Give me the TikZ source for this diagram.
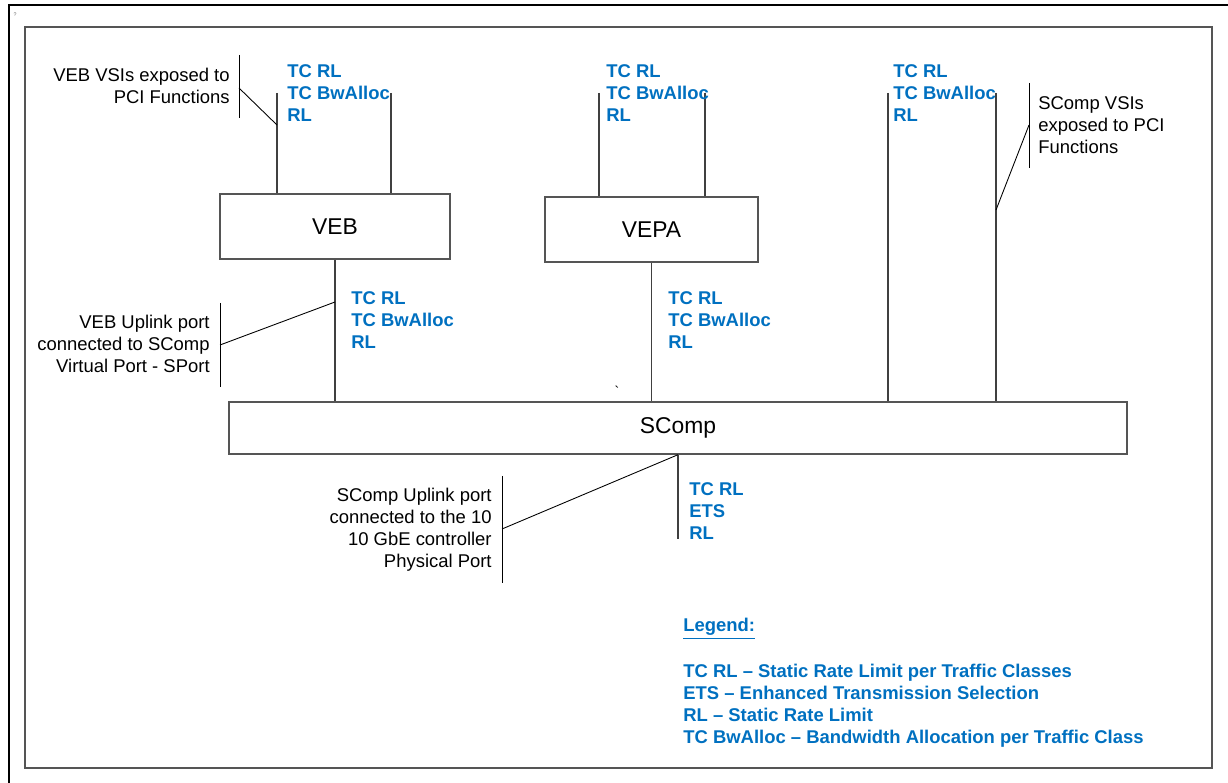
\documentclass[tikz,border=0pt]{standalone}
\usepackage{fontspec}
\setmainfont{Liberation Sans}
\usetikzlibrary{calc,positioning}
\definecolor{tcBlue}{HTML}{0070C0}
\definecolor{frameGray}{HTML}{555555}

\begin{document}
\begin{tikzpicture}[x=0.02cm, y=-0.02cm,
  block/.style={draw=frameGray, line width=0.8pt, fill=white, inner sep=0pt, font=\fontsize{13}{15}\selectfont},
  shaper/.style={anchor=west, align=left, inner sep=0pt, text=tcBlue, font=\bfseries\fontsize{10.5}{12.5}\selectfont},
  note/.style={inner sep=0pt, font=\fontsize{10.5}{12.5}\selectfont},
  link/.style={draw=black!75, line width=0.6pt},
  pointer/.style={draw=black, line width=0.5pt},
]
\useasboundingbox (0,0) rectangle (1228,783);
\draw[line width=1.1pt] (9,783) -- (9,5) -- (1228,5);
\draw[frameGray, line width=0.9pt] (25,27) rectangle (1212,768);
\node[inner sep=0pt, text=black!60, font=\fontsize{3}{3}\selectfont] (corner) at (15,15) {?};

% switches
\node[block, minimum width=4.6cm, minimum height=1.3cm] (veb) at (335,226.5) {VEB};
\node[block, minimum width=4.26cm, minimum height=1.3cm] (vepa) at (651.5,229.5) {VEPA};
\node[block, minimum width=17.96cm, minimum height=1.04cm] (scomp) at (678,428) {SComp};

% VSI ports
\foreach \x/\to in {277/veb, 391/veb, 599/vepa, 705/vepa, 888/scomp, 996/scomp} {
  \coordinate (top\x) at (\x,93);
  \draw[link] (top\x) -- (top\x |- \to.north);
}
\draw[link] (veb.south) -- (veb.south |- scomp.north);
\draw[link] (vepa.south) -- (vepa.south |- scomp.north);
\coordinate (uplink) at (678,539);
\draw[link] (scomp.south) -- (uplink);

% shaping at each port
\foreach \x/\y/\name in {287/93/vebTop, 606/93/vepaTop, 893/93/scTop, 351/320/vebUp, 668/320/vepaUp} {
  \node[shaper] (\name) at (\x,\y) {TC RL\\TC BwAlloc\\RL};
}
\node[shaper] (phyUp) at (689,511) {TC RL\\ETS\\RL};
\node[inner sep=0pt, font=\fontsize{8}{8}\selectfont] (tick) at (617,391) {\textasciigrave};

% callouts
\node[note, anchor=east, align=right] (vebVsiTxt) at (230,86) {VEB VSIs exposed to\\PCI Functions};
\coordinate (vebVsiA) at (239,55);
\coordinate (vebVsiB) at (239,118);
\coordinate (vebVsiM) at (239,88);
\coordinate (vebVsiP) at (277,125);
\draw[pointer] (vebVsiA) -- (vebVsiB);
\draw[pointer] (vebVsiM) -- (vebVsiP);

\node[note, anchor=west, align=left] (scVsiTxt) at (1038,125) {SComp VSIs\\exposed to PCI\\Functions};
\coordinate (scVsiA) at (1029,83);
\coordinate (scVsiB) at (1029,168);
\coordinate (scVsiM) at (1029,125);
\coordinate (scVsiP) at (996,210);
\draw[pointer] (scVsiA) -- (scVsiB);
\draw[pointer] (scVsiM) -- (scVsiP);

\node[note, anchor=east, align=right] (vebUpTxt) at (210,344) {VEB Uplink port\\connected to SComp\\Virtual Port - SPort};
\coordinate (vebUpA) at (220,303);
\coordinate (vebUpB) at (220,387);
\coordinate (vebUpM) at (220,345);
\coordinate (vebUpP) at (335,302);
\draw[pointer] (vebUpA) -- (vebUpB);
\draw[pointer] (vebUpM) -- (vebUpP);

\node[note, anchor=east, align=right] (scUpTxt) at (492,530) {SComp Uplink port\\connected to the 10\\10 GbE controller\\Physical Port};
\coordinate (scUpA) at (502,476);
\coordinate (scUpB) at (502,583);
\coordinate (scUpM) at (502,529);
\draw[pointer] (scUpA) -- (scUpB);
\draw[pointer] (scUpM) -- (scomp.south);

% legend
\node[shaper] (legendHead) at (683,629) {\underline{Legend:}};
\node[shaper] (legend) at (683,705.5) {TC RL -- Static Rate Limit per Traffic Classes\\ETS -- Enhanced Transmission Selection\\RL -- Static Rate Limit\\TC BwAlloc -- Bandwidth Allocation per Traffic Class};
\end{tikzpicture}
\end{document}
